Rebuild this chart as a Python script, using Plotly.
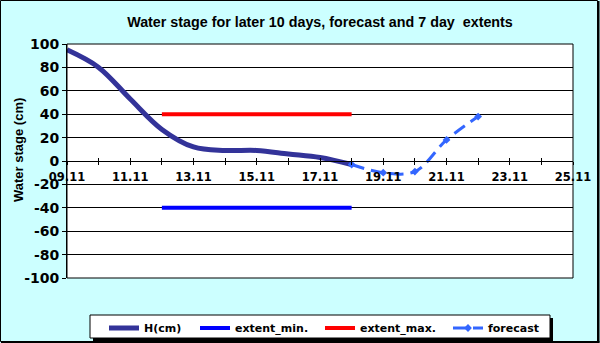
"""Water stage chart: last 10 days, forecast and 7 day extents."""

import plotly.graph_objects as go

# data
h_dates = ["2010-11-09", "2010-11-10", "2010-11-11", "2010-11-12", "2010-11-13",
           "2010-11-14", "2010-11-15", "2010-11-16", "2010-11-17", "2010-11-18"]
h_values = [95, 80, 53, 27, 12, 9, 9, 6, 3, -3]

extent_dates = ["2010-11-12", "2010-11-18"]
extent_min = [-40, -40]
extent_max = [40, 40]

fc_dates = ["2010-11-18", "2010-11-19", "2010-11-20", "2010-11-21", "2010-11-22"]
fc_values = [-3, -10, -9, 18, 38]

x_range = ["2010-11-09", "2010-11-25"]
y_ticks = [-100, -80, -60, -40, -20, 0, 20, 40, 60, 80, 100]
y_ticklabels = ["-100", "-80", "-60", "-40", "-20", "0", "20", "40", "60", "80", "100"]

W, H = 600, 343
L, R, T, B = 67, 27, 44, 65
PW, PH = W - L - R, H - T - B


def px_x(p):
    return (p - L) / PW


def px_y(p):
    return (H - B - p) / PH


tick_font = dict(family="DejaVu Sans", size=14, color="black", weight="bold")
legend_font = dict(family="DejaVu Sans", size=11, color="black", weight="bold")

fig = go.Figure()
fig.add_trace(go.Scatter(x=h_dates, y=h_values, name="H(cm)", mode="lines",
                         line=dict(color="#333399", width=5, shape="spline"),
                         legend="legend"))
fig.add_trace(go.Scatter(x=extent_dates, y=extent_min, name="extent_min.", mode="lines",
                         line=dict(color="#0000FF", width=4), legend="legend2"))
fig.add_trace(go.Scatter(x=extent_dates, y=extent_max, name="extent_max.", mode="lines",
                         line=dict(color="#FF0000", width=4), legend="legend3"))
fig.add_trace(go.Scatter(x=fc_dates, y=fc_values, name="forecast", mode="lines+markers",
                         line=dict(color="#3366FF", width=3, shape="spline", dash="13px,7px"),
                         marker=dict(symbol="diamond", size=6, color="#3366FF"),
                         legend="legend4"))
# invisible trace on overlay axis for inner tick marks
fig.add_trace(go.Scatter(x=x_range, y=[None, None], xaxis="x2", showlegend=False,
                         hoverinfo="skip"))

day = 86400000
fig.update_layout(
    width=W, height=H,
    margin=dict(l=L, r=R, t=T, b=B, autoexpand=False),
    paper_bgcolor="#CCFFFF",
    plot_bgcolor="white",
    title=dict(text="Water stage for later 10 days, forecast and 7 day  extents",
               x=0.5, xref="paper", y=1 - 22 / H, yanchor="middle",
               font=dict(family="Liberation Sans", size=14.3, color="black", weight="bold")),
    xaxis=dict(type="date", range=x_range, tickformat="%d.%m", tick0="2010-11-09",
               dtick=2 * day, anchor="free", position=0.5, showgrid=False,
               showline=True, linecolor="black", linewidth=1, automargin=False,
               ticks="outside", ticklen=3, tickcolor="black", ticklabelstandoff=2,
               minor=dict(dtick=day, tick0="2010-11-09", ticks="outside", ticklen=3,
                          tickcolor="black", showgrid=False),
               tickfont=dict(family="DejaVu Sans", size=11.5, color="black", weight="bold"),
               zeroline=False),
    xaxis2=dict(type="date", range=x_range, overlaying="x", anchor="free", position=0.5,
                showticklabels=False, showgrid=False, showline=False, automargin=False,
                ticks="inside", ticklen=3, tickcolor="black", dtick=day,
                tick0="2010-11-09"),
    yaxis=dict(range=[-100, 100], tickvals=y_ticks, ticktext=y_ticklabels,
               showgrid=True, gridcolor="black",
               gridwidth=1, zeroline=False, showline=True, linecolor="black",
               ticks="outside", ticklen=4, tickcolor="black", tickfont=tick_font,
               automargin=False),
    showlegend=True,
)

# y axis title placed as an annotation so it sits where the original has it
fig.add_annotation(text="Water stage (cm)", textangle=-90, showarrow=False,
                   xref="paper", yref="paper", x=px_x(18), y=px_y(150),
                   xanchor="center", yanchor="middle",
                   font=dict(family="Liberation Sans", size=13, color="black", weight="bold"))

leg_y = px_y(328)
for name, start in [("legend", 110), ("legend2", 201), ("legend3", 326), ("legend4", 454)]:
    fig.update_layout({name: dict(x=px_x(start - 6), y=leg_y, xanchor="left", yanchor="middle",
                                  bgcolor="rgba(0,0,0,0)", borderwidth=0, font=legend_font,
                                  orientation="h")})

shapes = [
    # outer chart border with heavier right/bottom edge
    dict(type="rect", xref="paper", yref="paper", x0=px_x(0.5), x1=px_x(597.5),
         y0=px_y(341.5), y1=px_y(0.5), line=dict(color="black", width=1), layer="below"),
    dict(type="line", xref="paper", yref="paper", x0=px_x(598.5), x1=px_x(598.5),
         y0=px_y(342.5), y1=px_y(1), line=dict(color="black", width=2)),
    dict(type="line", xref="paper", yref="paper", x0=px_x(1), x1=px_x(599.5),
         y0=px_y(342), y1=px_y(342), line=dict(color="black", width=2)),
    # legend shadow and box
    dict(type="rect", xref="paper", yref="paper", x0=px_x(93), x1=px_x(553),
         y0=px_y(342), y1=px_y(318), fillcolor="black", line=dict(width=0)),
    dict(type="rect", xref="paper", yref="paper", x0=px_x(90), x1=px_x(550),
         y0=px_y(338), y1=px_y(315), fillcolor="white", line=dict(color="black", width=1)),
    # plot area border
    dict(type="rect", xref="paper", yref="paper", x0=0, x1=1, y0=0, y1=1,
         line=dict(color="black", width=1)),
]
fig.update_layout(shapes=shapes)

fig.write_html("out.html", config={"displayModeBar": False},
               post_script="document.body.style.margin = '0';")
